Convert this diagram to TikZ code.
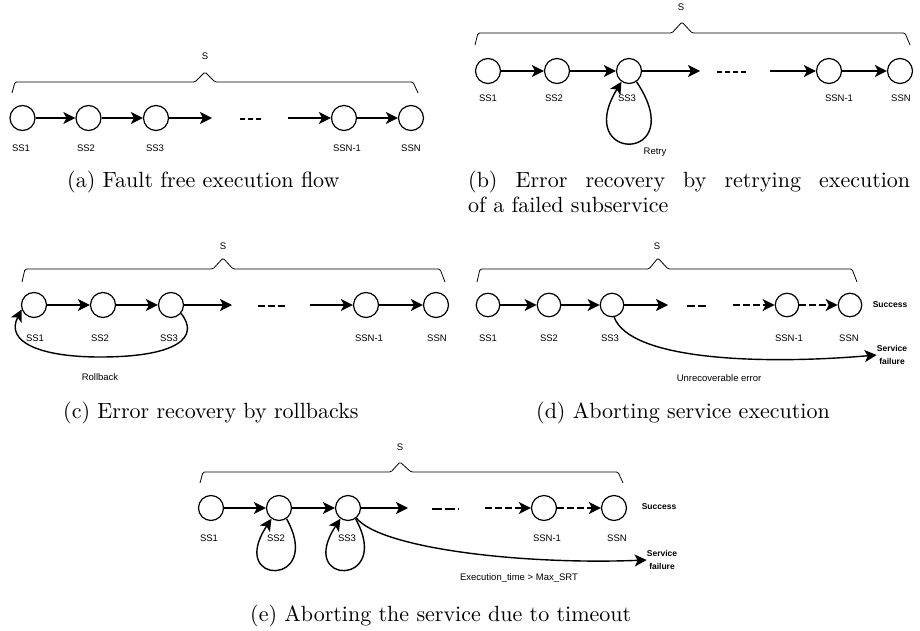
\documentclass[tikz,border=0pt]{standalone}
\usepackage{fontspec}
\newfontfamily\labfont{Liberation Sans}
\newfontfamily\capfont{lmroman10-regular}[Extension=.otf]
\usetikzlibrary{arrows.meta}
\begin{document}
\begin{tikzpicture}[x=1pt,y=-1pt,
  ss/.style={circle,draw,line width=1.2pt,minimum size=25pt,inner sep=0pt},
  ssd/.style={ss,minimum size=23.5pt},
  lbl/.style={font=\labfont\fontsize{9.5}{11}\selectfont,inner sep=0pt},
  blbl/.style={font=\labfont\bfseries\fontsize{8.5}{13}\selectfont,inner sep=0pt,align=center},
  captxt/.style={font=\capfont\fontsize{22}{25}\selectfont,inner sep=0pt,anchor=base west},
  arr/.style={line width=1.4pt,-{Stealth[length=12pt,width=12pt,inset=3pt]}},
  darr/.style={arr,dash pattern=on 7pt off 3pt},
  brace/.style={line width=0.8pt,rounded corners=1.5pt},
  ellip/.style={line width=2pt},
]
\useasboundingbox (0,0) rectangle (920,631);

% ---------------- (a) ----------------
\node[lbl] (sa) at (205,56) {S};
\draw[brace] (12,93) -- (15,82) -- (195,82) -- (205,72) -- (215,82) -- (413,82) -- (418,93);
\node[ss] (a1) at (22.5,118) {};
\node[ss] (a2) at (88.5,118) {};
\node[ss] (a3) at (156,118) {};
\node[ss] (a4) at (344,118) {};
\node[ss] (a5) at (411,118) {};
\coordinate (a3e) at (212,118);
\coordinate (a4s) at (288,118);
\draw[arr] (a1) -- (a2);
\draw[arr] (a2) -- (a3);
\draw[arr] (a3) -- (a3e);
\draw[arr] (a4s) -- (a4);
\draw[arr] (a4) -- (a5);
\draw[ellip,dash pattern=on 5pt off 3pt] (240,119) -- (261,119);
\node[lbl] (la1) at (21,148) {SS1};
\node[lbl] (la2) at (86,148) {SS2};
\node[lbl] (la3) at (155,148) {SS3};
\node[lbl] (la4) at (347,148) {SSN-1};
\node[lbl] (la5) at (411,148) {SSN};
\node[captxt] (capa) at (67,188) {(a) Fault free execution flow};

% ---------------- (b) ----------------
\node[lbl] (sb) at (681,7.5) {S};
\draw[brace] (475,45) -- (478,33) -- (672,33) -- (682,22) -- (692,33) -- (905,33) -- (910,45);
\node[ss] (b1) at (488,71) {};
\node[ss] (b2) at (557,71) {};
\node[ss] (b3) at (629,71) {};
\node[ss] (b4) at (829,71) {};
\node[ss] (b5) at (900,71) {};
\coordinate (b3e) at (700,71);
\coordinate (b4s) at (770,71);
\draw[arr] (b1) -- (b2);
\draw[arr] (b2) -- (b3);
\draw[arr] (b3) -- (b3e);
\draw[arr] (b4s) -- (b4);
\draw[arr] (b4) -- (b5);
\draw[ellip,dash pattern=on 5pt off 3pt] (717,72) -- (746,72);
\draw[arr] (b3.-55) .. controls +(55,82) and +(-50,82) .. (b3.-125);
\node[lbl] (lb1) at (488,98) {SS1};
\node[lbl] (lb2) at (554,98) {SS2};
\node[lbl] (lb3) at (627,98) {SS3};
\node[lbl] (lb4) at (839,98) {SSN-1};
\node[lbl] (lb5) at (901,98) {SSN};
\node[lbl] (lbr) at (655,152) {Retry};
\node[captxt] (capb1) at (468,187) {\makebox[442pt][s]{(b) Error recovery by retrying execution}};
\node[captxt] (capb2) at (468,212) {of a failed subservice};

% ---------------- (c) ----------------
\node[lbl] (sc) at (223,246) {S};
\draw[brace] (22,282) -- (25,269) -- (213,269) -- (223,258) -- (233,269) -- (440,269) -- (445,282);
\node[ss] (c1) at (34,305) {};
\node[ss] (c2) at (103,305) {};
\node[ss] (c3) at (171,305) {};
\node[ss] (c4) at (366,305) {};
\node[ss] (c5) at (436,305) {};
\coordinate (c3e) at (232,305);
\coordinate (c4s) at (310,305);
\draw[arr] (c1) -- (c2);
\draw[arr] (c2) -- (c3);
\draw[arr] (c3) -- (c3e);
\draw[arr] (c4s) -- (c4);
\draw[arr] (c4) -- (c5);
\draw[ellip,dash pattern=on 7pt off 3pt] (258,306) -- (285,306);
\draw[arr] (c3.-40) .. controls (200,337) and (178,357) .. (100,357)
  .. controls (40,357) and (5,342) .. (c1.-160);
\node[lbl] (lc1) at (35,338) {SS1};
\node[lbl] (lc2) at (100,338) {SS2};
\node[lbl] (lc3) at (169,338) {SS3};
\node[lbl] (lc4) at (369,338) {SSN-1};
\node[lbl] (lc5) at (437,338) {SSN};
\node[lbl] (lcr) at (100,377) {Rollback};
\node[captxt] (capc) at (63,418) {(c) Error recovery by rollbacks};

% ---------------- (d) ----------------
\node[lbl] (sd) at (657,246) {S};
\draw[brace] (477,282) -- (480,269) -- (649,269) -- (658,258) -- (668,269) -- (852,269) -- (857,282);
\node[ssd] (d1) at (488,305) {};
\node[ssd] (d2) at (549,305) {};
\node[ssd] (d3) at (612,305) {};
\node[ssd] (d4) at (787,305) {};
\node[ssd] (d5) at (850,305) {};
\coordinate (d3e) at (668,305);
\coordinate (d4s) at (733,305);
\draw[arr] (d1) -- (d2);
\draw[arr] (d2) -- (d3);
\draw[arr] (d3) -- (d3e);
\draw[darr] (d4s) -- (d4);
\draw[darr] (d4) -- (d5);
\draw[ellip,dash pattern=on 8pt off 3pt] (687,306) -- (707,306);
\node[blbl] (dsucc) at (890,305) {Success};
\node[blbl] (dfail) at (892,355) {Service\\failure};
\draw[arr] (d3.-80) .. controls (630,360) and (760,365) .. (dfail.west);
\node[lbl] (ld1) at (488,338) {SS1};
\node[lbl] (ld2) at (549,338) {SS2};
\node[lbl] (ld3) at (610,338) {SS3};
\node[lbl] (ld4) at (789,338) {SSN-1};
\node[lbl] (ld5) at (849,338) {SSN};
\node[lbl] (ldu) at (719,378) {Unrecoverable error};
\node[captxt] (capd) at (536,418) {(d) Aborting service execution};

% ---------------- (e) ----------------
\node[lbl] (se) at (400,447.5) {S};
\draw[brace] (200,483) -- (203,472) -- (391,472) -- (400,462) -- (411,472) -- (618,472) -- (623,483);
\node[ss] (e1) at (211,508) {};
\node[ss] (e2) at (279,508) {};
\node[ss] (e3) at (348,508) {};
\node[ss] (e4) at (544,508) {};
\node[ss] (e5) at (614,508) {};
\coordinate (e3e) at (408,508);
\coordinate (e4s) at (485,508);
\draw[arr] (e1) -- (e2);
\draw[arr] (e2) -- (e3);
\draw[arr] (e3) -- (e3e);
\draw[darr] (e4s) -- (e4);
\draw[darr] (e4) -- (e5);
\draw[ellip,dash pattern=on 10pt off 3pt] (432,509) -- (459,509);
\draw[arr] (e2.-55) .. controls +(38,68) and +(-45,68) .. (e2.-125);
\draw[arr] (e3.-55) .. controls +(38,68) and +(-45,68) .. (e3.-125);
\node[blbl] (esucc) at (659,507) {Success};
\node[blbl] (efail) at (662,560) {Service\\failure};
\draw[arr] (e3.-50) .. controls (380,548) and (520,565) .. (efail.west);
\node[lbl] (le1) at (209,538) {SS1};
\node[lbl] (le2) at (276,538) {SS2};
\node[lbl] (le3) at (347,538) {SS3};
\node[lbl] (le4) at (547,538) {SSN-1};
\node[lbl] (le5) at (617,538) {SSN};
\node[lbl] (let) at (519,578) {Execution\_time > Max\_SRT};
\node[captxt] (cape) at (250,621) {(e) Aborting the service due to timeout};
\end{tikzpicture}
\end{document}
